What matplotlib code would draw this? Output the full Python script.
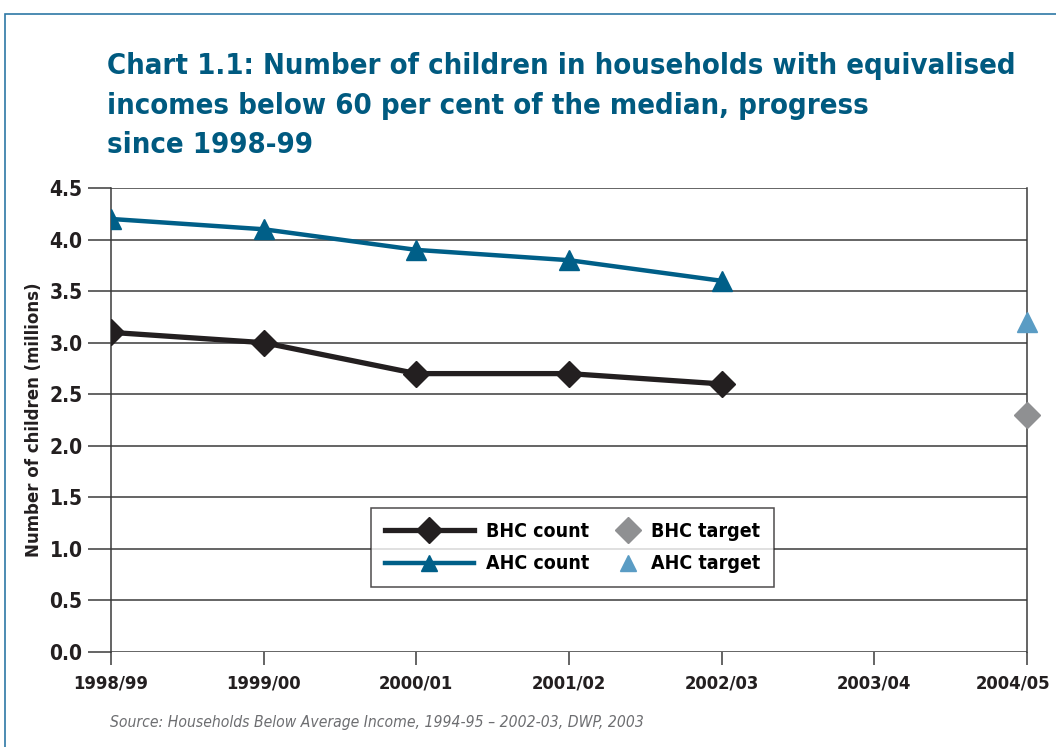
import matplotlib
matplotlib.use("Agg")
import numpy as np
import matplotlib.pyplot as plt
import matplotlib.transforms as mtransforms
from matplotlib.patches import Rectangle
from matplotlib.lines import Line2D
from matplotlib.legend_handler import HandlerLine2D

# Data
years = ["1998/99", "1999/00", "2000/01", "2001/02", "2002/03", "2003/04", "2004/05"]
bhc_count = [3.1, 3.0, 2.7, 2.7, 2.6]
ahc_count = [4.2, 4.1, 3.9, 3.8, 3.6]
bhc_target = [2.3]
ahc_target = [3.2]
target_year = "2004/05"
y_ticks = [0.0, 0.5, 1.0, 1.5, 2.0, 2.5, 3.0, 3.5, 4.0, 4.5]

TITLE_BLUE = "#005a80"
AHC_BLUE = "#005f88"
AHC_TARGET = "#5a9cc4"
BHC_TARGET = "#8f9092"
DARK = "#231f20"
GRID = "#3a3a3a"

plt.rcParams["font.family"] = ["DejaVu Sans"]
plt.rcParams["font.stretch"] = "condensed"


class MarkerRight(HandlerLine2D):
    # put a marker-only handle at the right end of the handle box
    def create_artists(self, legend, orig_handle, xdescent, ydescent,
                       width, height, fontsize, trans):
        artists = super().create_artists(legend, orig_handle, xdescent, ydescent,
                                         width, height, fontsize, trans)
        shift = 0.5 * width - 0.6 * fontsize
        for a in artists:
            a.set_xdata(np.asarray(a.get_xdata()) + shift)
        return artists


fig = plt.figure(figsize=(10.56, 7.47), dpi=100)

# outer frame (open on right and bottom)
fig.add_artist(Rectangle((0.0045, -0.05), 1.2, 1.0313, transform=fig.transFigure,
                         fill=False, edgecolor="#2e78a6", linewidth=1.2))

ax = fig.add_axes([0.1051, 0.1272, 0.8674, 0.6211])

x = list(range(len(years)))
n = len(bhc_count)
tx = years.index(target_year)

ax.plot(x[:n], bhc_count, color=DARK, lw=3.8, marker="D", markersize=13,
        zorder=4, label="BHC count")
ax.plot(x[:n], ahc_count, color=AHC_BLUE, lw=3.2, marker="^", markersize=14,
        zorder=4, label="AHC count")
ax.plot([tx], bhc_target, ls="none", marker="D", markersize=13,
        color=BHC_TARGET, zorder=5, clip_on=False, label="BHC target")
ax.plot([tx], ahc_target, ls="none", marker="^", markersize=14,
        color=AHC_TARGET, zorder=5, clip_on=False, label="AHC target")

ax.set_xlim(0, len(years) - 1)
ax.set_ylim(0, 4.5)
ax.set_xticks(x)
ax.set_xticklabels(years)
ax.set_yticks(y_ticks)
ax.set_yticklabels([f"{v:.1f}" for v in y_ticks])

for v in y_ticks:
    ax.axhline(v, color=GRID, lw=1.1, zorder=1)

for side in ["top", "bottom"]:
    ax.spines[side].set_visible(False)
for side in ["left", "right"]:
    ax.spines[side].set_color(GRID)
    ax.spines[side].set_linewidth(1.1)

ax.tick_params(axis="y", length=16.5, width=1.1, color=GRID, pad=4,
               labelsize=15)
ax.tick_params(axis="x", length=9.5, width=1.1, color=GRID, pad=7,
               labelsize=13.2)
for lbl in ax.get_xticklabels() + ax.get_yticklabels():
    lbl.set_fontweight("bold")
    lbl.set_color(DARK)

# last year label sits pulled in from the edge, as in the original
last = ax.get_xticklabels()[-1]
last.set_transform(last.get_transform() +
                   mtransforms.ScaledTranslation(-14 / 100, 0, fig.dpi_scale_trans))

ax.set_ylabel("Number of children (millions)", fontsize=13.3, fontweight="bold",
              color=DARK)
ax.yaxis.set_label_coords(-0.074, 0.5)

handles = [
    Line2D([], [], color=DARK, lw=3.8, marker="D", markersize=13),
    Line2D([], [], color=AHC_BLUE, lw=3.2, marker="^", markersize=12),
    Line2D([], [], ls="none", marker="D", markersize=13, color=BHC_TARGET),
    Line2D([], [], ls="none", marker="^", markersize=12, color=AHC_TARGET),
]
labels = ["BHC count", "AHC count", "BHC target", "AHC target"]
leg = ax.legend(handles, labels, loc="lower left", bbox_to_anchor=(0.2838, 0.14),
                ncol=2, frameon=True, fancybox=False, handlelength=4.6,
                handletextpad=0.6, columnspacing=-2.0, labelspacing=0.7,
                borderpad=0.7, borderaxespad=0,
                prop={"weight": "bold", "size": 14},
                handler_map={handles[2]: MarkerRight(), handles[3]: MarkerRight()})
leg.get_frame().set_edgecolor(DARK)
leg.get_frame().set_linewidth(1.1)
leg.set_zorder(6)

fig.text(0.101, 0.9305,
         "Chart 1.1: Number of children in households with equivalised\n"
         "incomes below 60 per cent of the median, progress\n"
         "since 1998-99",
         ha="left", va="top", fontsize=21, fontweight="bold",
         color=TITLE_BLUE, linespacing=1.53)

fig.text(0.104, 0.033,
         "Source: Households Below Average Income, 1994-95 \u2013 2002-03, DWP, 2003",
         ha="left", va="center", fontsize=11.25, style="italic", color="#6d6e71")

fig.savefig("out.png", dpi=100)
